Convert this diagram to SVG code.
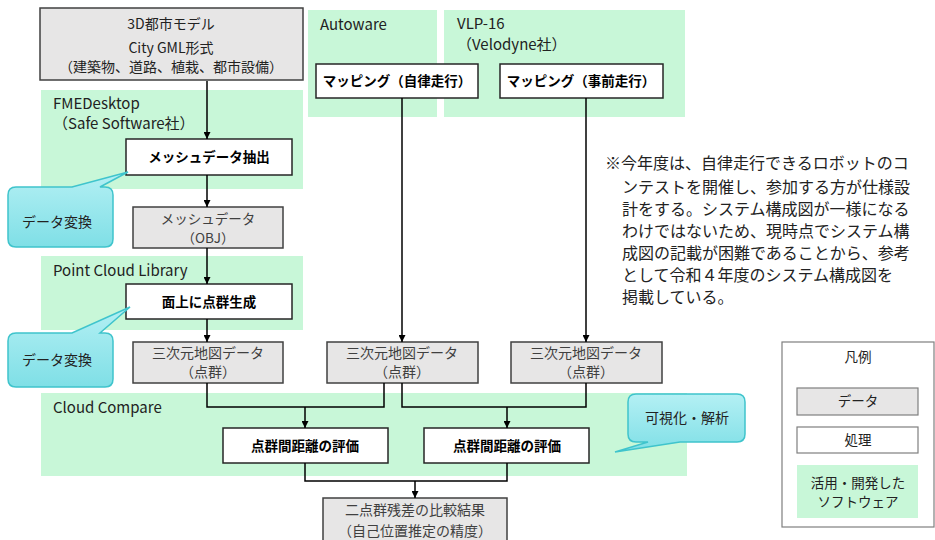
<svg xmlns="http://www.w3.org/2000/svg" width="935" height="540" viewBox="0 0 935 540">
<defs>
<marker id="ah" viewBox="0 0 10 10" refX="10" refY="5" markerWidth="7" markerHeight="7" markerUnits="userSpaceOnUse" orient="auto">
<path d="M0,0 L10,5 L0,10 z" fill="#000"/>
</marker>
<linearGradient id="cg" x1="0" y1="0" x2="0" y2="1">
<stop offset="0" stop-color="#b4f0f4"/>
<stop offset="1" stop-color="#7fdfe6"/>
</linearGradient>
</defs>
<style>
text{font-family:"Noto Sans CJK JP","Noto Sans",sans-serif;}
.green{fill:#c8f7d8;}
.data{fill:#e7e6e6;stroke:#404040;stroke-width:1.5;}
.proc{fill:#fff;stroke:#262626;stroke-width:1.5;}
.dt{font-size:14px;fill:#404040;text-anchor:middle;}
.pt{font-size:13.5px;font-weight:bold;fill:#000;text-anchor:middle;}
.sw{font-size:15px;fill:#222;}
.call{fill:url(#cg);stroke:#3fc4cc;stroke-width:1.5;}
.ct{font-size:14px;fill:#222;text-anchor:middle;}
.note{font-size:16px;fill:#222;}
.con{fill:none;stroke:#000;stroke-width:1.5;}
.lg{font-size:13.5px;fill:#222;text-anchor:middle;}
</style>
<rect width="935" height="540" fill="#fff"/>

<g id="sw-fme"><rect class="green" x="41" y="90" width="262" height="99"/>
<text class="sw" x="53" y="109">FMEDesktop</text><text class="sw" x="53" y="129">（Safe Software社）</text></g>
<g id="sw-autoware"><rect class="green" x="308" y="10" width="129" height="107"/>
<text class="sw" x="320" y="30">Autoware</text></g>
<g id="sw-vlp"><rect class="green" x="444" y="10" width="241" height="107"/>
<text class="sw" x="457" y="29">VLP-16</text><text class="sw" x="457" y="50">（Velodyne社）</text></g>
<g id="sw-pcl"><rect class="green" x="41" y="256" width="262" height="74"/>
<text class="sw" x="53" y="276">Point Cloud Library</text></g>
<g id="sw-cc"><rect class="green" x="41" y="393" width="646" height="83"/>
<text class="sw" x="53" y="413">Cloud Compare</text></g>

<g id="n-citygml"><rect class="data" x="40" y="8" width="263" height="72"/>
<text class="dt" x="171" y="29" style="fill:#222">3D都市モデル</text>
<text class="dt" x="171" y="53" style="fill:#222">City GML形式</text>
<text class="dt" x="171" y="72" style="fill:#222">（建築物、道路、植栽、都市設備）</text></g>

<g id="n-extract"><rect class="proc" x="126" y="139" width="166" height="36"/><text class="pt" x="209" y="162">メッシュデータ抽出</text></g>
<g id="n-mesh"><rect class="data" x="133" y="207" width="150" height="41"/>
<text class="dt" x="208" y="224" style="font-size:13.5px">メッシュデータ</text><text class="dt" x="208" y="243" style="font-size:13.5px">（OBJ）</text></g>
<g id="n-gen"><rect class="proc" x="126" y="284" width="166" height="35"/><text class="pt" x="209" y="307">面上に点群生成</text></g>
<g id="n-map1"><rect class="data" x="133" y="342" width="150" height="41"/>
<text class="dt" x="208" y="358">三次元地図データ</text><text class="dt" x="208" y="377">（点群）</text></g>

<g id="n-auto"><rect class="proc" x="316" y="64" width="162" height="34"/><text class="pt" x="397" y="86">マッピング（自律走行）</text></g>
<g id="n-pre"><rect class="proc" x="500" y="64" width="163" height="34"/><text class="pt" x="581" y="86">マッピング（事前走行）</text></g>
<g id="n-map2"><rect class="data" x="327" y="342" width="151" height="41"/>
<text class="dt" x="402" y="358">三次元地図データ</text><text class="dt" x="402" y="377">（点群）</text></g>
<g id="n-map3"><rect class="data" x="511" y="342" width="151" height="41"/>
<text class="dt" x="586" y="358">三次元地図データ</text><text class="dt" x="586" y="377">（点群）</text></g>

<g id="n-eval1"><rect class="proc" x="223" y="428" width="165" height="35"/><text class="pt" x="305" y="451">点群間距離の評価</text></g>
<g id="n-eval2"><rect class="proc" x="424" y="428" width="165" height="35"/><text class="pt" x="507" y="451">点群間距離の評価</text></g>
<g id="n-result"><rect class="data" x="323" y="498" width="184" height="48"/>
<text class="dt" x="415" y="515">二点群残差の比較結果</text><text class="dt" x="415" y="536">（自己位置推定の精度）</text></g>

<g id="connectors">
<line class="con" x1="207" y1="81" x2="207" y2="139" marker-end="url(#ah)"/>
<line class="con" x1="207" y1="175" x2="207" y2="207" marker-end="url(#ah)"/>
<line class="con" x1="207" y1="248" x2="207" y2="284" marker-end="url(#ah)"/>
<line class="con" x1="207" y1="319" x2="207" y2="342" marker-end="url(#ah)"/>
<line class="con" x1="402" y1="98" x2="402" y2="342" marker-end="url(#ah)"/>
<line class="con" x1="586" y1="98" x2="586" y2="342" marker-end="url(#ah)"/>
<polyline class="con" points="207,383 207,407 384,407 384,383"/>
<line class="con" x1="305" y1="407" x2="305" y2="428" marker-end="url(#ah)"/>
<polyline class="con" points="402,383 402,407 586,407 586,383"/>
<line class="con" x1="507" y1="407" x2="507" y2="428" marker-end="url(#ah)"/>
<polyline class="con" points="305,463 305,481 507,481 507,463"/>
<line class="con" x1="415" y1="481" x2="415" y2="498" marker-end="url(#ah)"/>
</g>

<g id="callout1"><path class="call" d="M16,187 L72,187 L128,172 L100,187 L105,187 Q113,187 113,195 L113,239 Q113,247 105,247 L16,247 Q8,247 8,239 L8,195 Q8,187 16,187 z"/>
<text class="ct" x="57" y="227">データ変換</text></g>
<g id="callout2"><path class="call" d="M16,333 L72,333 L130,307 L100,333 L105,333 Q113,333 113,341 L113,379 Q113,387 105,387 L16,387 Q8,387 8,379 L8,341 Q8,333 16,333 z"/>
<text class="ct" x="57" y="365">データ変換</text></g>
<g id="callout3"><path class="call" d="M636,394 L737,394 Q745,394 745,402 L745,434 Q745,442 737,442 L680,442 L615,452 L648,442 L636,442 Q628,442 628,434 L628,402 Q628,394 636,394 z"/>
<text class="ct" x="687" y="423">可視化・解析</text></g>

<g id="note">
<text class="note" x="605" y="169">※今年度は、自律走行できるロボットのコ</text>
<text class="note" x="622" y="193">ンテストを開催し、参加する方が仕様設</text>
<text class="note" x="622" y="215">計をする。システム構成図が一様になる</text>
<text class="note" x="622" y="237">わけではないため、現時点でシステム構</text>
<text class="note" x="622" y="259">成図の記載が困難であることから、参考</text>
<text class="note" x="622" y="281">として令和４年度のシステム構成図を</text>
<text class="note" x="622" y="303">掲載している。</text>
</g>

<g id="legend">
<rect x="782" y="342" width="152" height="185" fill="#fff" stroke="#7f7f7f" stroke-width="1.2"/>
<text class="lg" x="858" y="362">凡例</text>
<rect class="data" x="797" y="388" width="121" height="27" style="stroke:#7f7f7f;stroke-width:1.2"/>
<text class="lg" x="858" y="406">データ</text>
<rect class="proc" x="797" y="427" width="121" height="26" style="stroke:#7f7f7f;stroke-width:1.2"/>
<text class="lg" x="858" y="445">処理</text>
<rect class="green" x="797" y="465" width="121" height="53"/>
<text class="lg" x="858" y="488">活用・開発した</text>
<text class="lg" x="858" y="507">ソフトウェア</text>
</g>
</svg>
